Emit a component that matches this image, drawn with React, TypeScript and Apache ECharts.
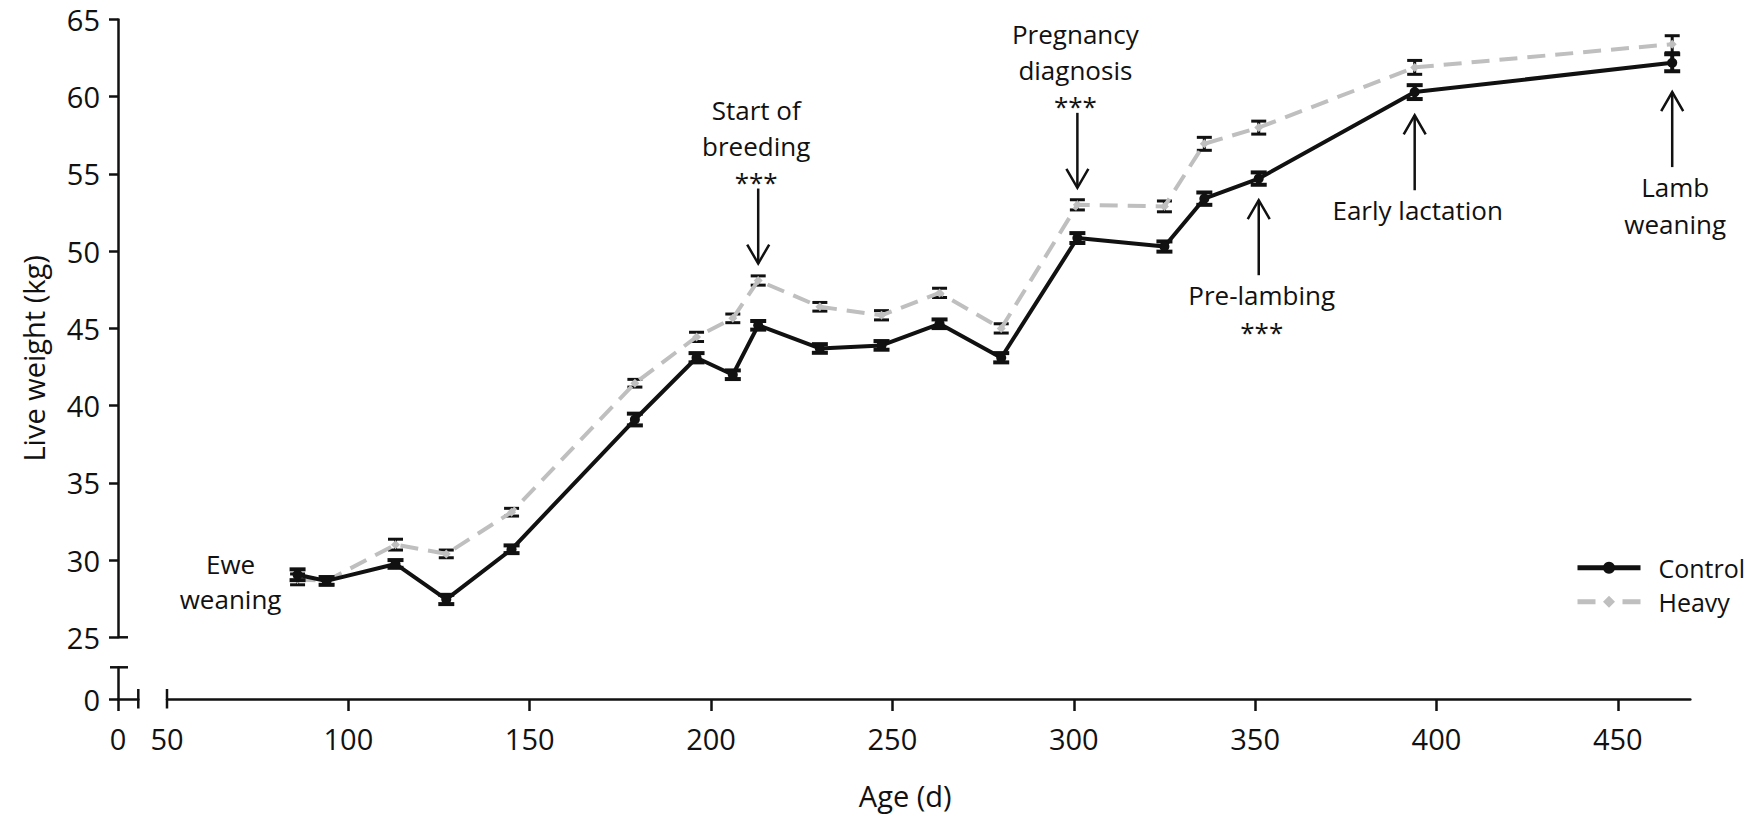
import React, { useEffect, useRef } from "react";
import * as echarts from "echarts";

// ---- data ----
const ageDays = [86, 94, 113, 127, 145, 179, 196, 206, 213, 230, 247, 263, 280, 301, 325, 336, 351, 394, 465];
const controlWeight = [29.05, 28.65, 29.75, 27.45, 30.7, 39.1, 43.1, 42.0, 45.2, 43.7, 43.9, 45.3, 43.1, 50.85, 50.3, 53.4, 54.7, 60.3, 62.2];
const controlSem = [0.35, 0.25, 0.25, 0.3, 0.25, 0.38, 0.3, 0.28, 0.28, 0.28, 0.28, 0.28, 0.3, 0.32, 0.33, 0.4, 0.4, 0.45, 0.55];
const heavyWeight = [28.75, 28.65, 31.0, 30.4, 33.1, 41.45, 44.45, 45.65, 48.1, 46.4, 45.85, 47.3, 45.0, 53.0, 52.9, 56.95, 58.0, 61.9, 63.4];
const heavySem = [0.35, 0.25, 0.35, 0.25, 0.25, 0.25, 0.3, 0.28, 0.3, 0.28, 0.3, 0.3, 0.3, 0.33, 0.35, 0.42, 0.42, 0.45, 0.55];

const xLabelValues = [50, 100, 150, 200, 250, 300, 350, 400, 450];
const xTickValues = [100, 150, 200, 250, 300, 350, 400, 450];

// events along the timeline: label lines, day, weight where the arrow tip sits, arrow direction
const eventText = [
  ["Ewe", "weaning"],
  ["Start of", "breeding", "***"],
  ["Pregnancy", "diagnosis", "***"],
  ["Pre-lambing", "***"],
  ["Early lactation"],
  ["Lamb", "weaning"],
];
const eventDay = [86, 213, 301, 351, 394, 465];
const eventKg = [29.05, 49.2, 54.1, 53.3, 58.8, 60.3];
const eventDir = ["none", "down", "down", "up", "up", "up"];

// ---- styling / layout ----
const FONT = "'Open Sans', 'Noto Sans', sans-serif";
const INK = "#111111";
const GREY = "#bfbfbf";
const FS_TICK = 29;
const FS_TITLE = 29;
const FS_NOTE = 26;
const FS_LEGEND = 25;

const GRID_LEFT = 167;
const GRID_TOP = 19.5;
const PX_PER_DAY = 3.627;
const PX_PER_KG = 15.445;
const X_MIN = 50;
const X_MAX = 470;
const Y_MIN = 25;
const Y_MAX = 65;
const GRID_W = (X_MAX - X_MIN) * PX_PER_DAY;
const GRID_H = (Y_MAX - Y_MIN) * PX_PER_KG;
const GRID_BOTTOM = GRID_TOP + GRID_H;
const Y_AXIS_X = 118;
const X_AXIS_Y = 699;
const STUB_X_END = 138.3;
const STUB_Y_TOP = 667.3;
const ARROW_LEN = 75;

const axisLineStyle = { color: INK, width: 2.5 };
const tickLabelStyle = { color: INK, fontSize: FS_TICK, fontFamily: FONT };
const titleStyle = { color: INK, fontSize: FS_TITLE, fontFamily: FONT };

const errorBar = (capHalf: number, width: number) => (_params: any, api: any) => {
  const x = api.value(0);
  const lo = api.coord([x, api.value(1)]);
  const hi = api.coord([x, api.value(2)]);
  const style = { stroke: INK, lineWidth: width };
  return {
    type: "group",
    children: [
      { type: "line", shape: { x1: lo[0], y1: lo[1], x2: hi[0], y2: hi[1] }, style },
      { type: "line", shape: { x1: lo[0] - capHalf, y1: lo[1], x2: lo[0] + capHalf, y2: lo[1] }, style },
      { type: "line", shape: { x1: hi[0] - capHalf, y1: hi[1], x2: hi[0] + capHalf, y2: hi[1] }, style },
    ],
  };
};

const textEl = (text: string, x: number, y: number) => ({
  type: "text",
  x,
  y,
  style: { text, fill: INK, fontSize: FS_NOTE, fontFamily: FONT, align: "center", verticalAlign: "middle" },
});

const renderEvent = (params: any, api: any) => {
  const i = params.dataIndex;
  const lines = eventText[i];
  const dir = eventDir[i];
  const p = api.coord([api.value(0), api.value(1)]);
  const stroke = { stroke: INK, lineWidth: 2.5, fill: "none" };
  const children: any[] = [];
  if (dir === "down") {
    const tail = p[1] - ARROW_LEN;
    children.push({ type: "line", shape: { x1: p[0], y1: tail, x2: p[0], y2: p[1] }, style: stroke });
    children.push({ type: "polyline", shape: { points: [[p[0] - 11, p[1] - 19], [p[0], p[1]], [p[0] + 11, p[1] - 19]] }, style: stroke });
    lines.forEach((t, k) => children.push(textEl(t, p[0] - 2, tail - 7 - (lines.length - 1 - k) * 36)));
  } else if (dir === "up") {
    const tail = p[1] + ARROW_LEN;
    children.push({ type: "line", shape: { x1: p[0], y1: tail, x2: p[0], y2: p[1] }, style: stroke });
    children.push({ type: "polyline", shape: { points: [[p[0] - 11, p[1] + 19], [p[0], p[1]], [p[0] + 11, p[1] + 19]] }, style: stroke });
    lines.forEach((t, k) => children.push(textEl(t, p[0] + 3, tail + 20 + k * 36.5)));
  } else {
    lines.forEach((t, k) => children.push(textEl(t, p[0] - 67, p[1] + 7 + (k - (lines.length - 1) / 2) * 35)));
  }
  return { type: "group", children };
};

const capLine = (x1: number, y1: number, x2: number, y2: number) => ({
  type: "line",
  shape: { x1, y1, x2, y2 },
  style: { stroke: INK, lineWidth: 2.5 },
  silent: true,
});

const option: any = {
  animation: false,
  backgroundColor: "#ffffff",
  grid: [
    { left: GRID_LEFT, top: GRID_TOP, width: GRID_W, height: GRID_H, outerBoundsMode: "none" },
    { left: Y_AXIS_X, top: STUB_Y_TOP, width: STUB_X_END - Y_AXIS_X, height: X_AXIS_Y - STUB_Y_TOP, outerBoundsMode: "none" },
  ],
  xAxis: [
    {
      type: "value",
      gridIndex: 0,
      min: X_MIN,
      max: X_MAX,
      position: "bottom",
      offset: X_AXIS_Y - GRID_BOTTOM,
      axisLine: { show: true, onZero: false, lineStyle: axisLineStyle },
      axisTick: { show: true, length: 12, lineStyle: axisLineStyle, customValues: xTickValues },
      axisLabel: { ...tickLabelStyle, margin: 25, customValues: xLabelValues },
      splitLine: { show: false },
      name: "Age (d)",
      nameLocation: "middle",
      nameGap: 82,
      nameTextStyle: { ...titleStyle, padding: [0, 47, 0, 0] },
    },
    {
      type: "value",
      gridIndex: 1,
      min: 0,
      max: (STUB_X_END - Y_AXIS_X) / PX_PER_DAY,
      position: "bottom",
      axisLine: { show: true, onZero: false, lineStyle: axisLineStyle },
      axisTick: { show: true, length: 12, lineStyle: axisLineStyle, customValues: [0] },
      axisLabel: { ...tickLabelStyle, margin: 25, customValues: [0] },
      splitLine: { show: false },
    },
  ],
  yAxis: [
    {
      type: "value",
      gridIndex: 0,
      min: Y_MIN,
      max: Y_MAX,
      interval: 5,
      position: "left",
      offset: GRID_LEFT - Y_AXIS_X,
      axisLine: { show: true, onZero: false, lineStyle: axisLineStyle },
      axisTick: { show: true, length: 9, lineStyle: axisLineStyle },
      axisLabel: { ...tickLabelStyle, margin: 18 },
      splitLine: { show: false },
      name: "Live weight (kg)",
      nameLocation: "middle",
      nameGap: 70,
      nameTextStyle: { ...titleStyle, padding: [0, 60, 0, 0] },
    },
    {
      type: "value",
      gridIndex: 1,
      min: 0,
      max: (X_AXIS_Y - STUB_Y_TOP) / PX_PER_KG,
      position: "left",
      axisLine: { show: true, onZero: false, lineStyle: axisLineStyle },
      axisTick: { show: true, length: 9, lineStyle: axisLineStyle, customValues: [0] },
      axisLabel: { ...tickLabelStyle, margin: 18, customValues: [0] },
      splitLine: { show: false },
    },
  ],
  legend: {
    data: [
      { name: "Control", lineStyle: { width: 5 } },
      { name: "Heavy", lineStyle: { width: 5, type: [18, 27] } },
    ],
    orient: "vertical",
    left: 1575,
    top: 552.7,
    padding: 0,
    itemWidth: 63,
    itemHeight: 15,
    itemGap: 4,
    selectedMode: false,
    lineStyle: { width: 5 },
    textStyle: { color: INK, fontSize: FS_LEGEND, fontFamily: FONT, lineHeight: 30, padding: [0, 0, 0, 13] },
  },
  // axis-break caps
  graphic: [
    capLine(Y_AXIS_X, GRID_BOTTOM, Y_AXIS_X + 10, GRID_BOTTOM),
    capLine(Y_AXIS_X - 8, STUB_Y_TOP, Y_AXIS_X + 10, STUB_Y_TOP),
    capLine(STUB_X_END, X_AXIS_Y - 10, STUB_X_END, X_AXIS_Y + 9.5),
    capLine(GRID_LEFT, X_AXIS_Y - 10, GRID_LEFT, X_AXIS_Y + 9.5),
  ],
  series: [
    {
      name: "Heavy SEM",
      type: "custom",
      xAxisIndex: 0,
      yAxisIndex: 0,
      z: 1,
      clip: false,
      silent: true,
      renderItem: errorBar(7.5, 3),
      encode: { x: 0, y: [1, 2] },
      data: ageDays.map((d, i) => [d, heavyWeight[i] - heavySem[i], heavyWeight[i] + heavySem[i]]),
    },
    {
      name: "Heavy",
      type: "line",
      xAxisIndex: 0,
      yAxisIndex: 0,
      z: 2,
      symbol: "diamond",
      symbolSize: 9,
      itemStyle: { color: GREY },
      lineStyle: { color: GREY, width: 4, type: [18, 10] },
      data: ageDays.map((d, i) => [d, heavyWeight[i]]),
    },
    {
      name: "Control SEM",
      type: "custom",
      xAxisIndex: 0,
      yAxisIndex: 0,
      z: 3,
      clip: false,
      silent: true,
      renderItem: errorBar(8, 4),
      encode: { x: 0, y: [1, 2] },
      data: ageDays.map((d, i) => [d, controlWeight[i] - controlSem[i], controlWeight[i] + controlSem[i]]),
    },
    {
      name: "Control",
      type: "line",
      xAxisIndex: 0,
      yAxisIndex: 0,
      z: 4,
      symbol: "circle",
      symbolSize: 10,
      itemStyle: { color: INK },
      lineStyle: { color: INK, width: 4 },
      data: ageDays.map((d, i) => [d, controlWeight[i]]),
    },
    {
      name: "Events",
      type: "custom",
      xAxisIndex: 0,
      yAxisIndex: 0,
      z: 5,
      clip: false,
      silent: true,
      renderItem: renderEvent,
      encode: { x: 0, y: 1 },
      data: eventDay.map((d, i) => [d, eventKg[i]]),
    },
  ],
};

export default function App() {
  const ref = useRef<HTMLDivElement>(null);
  useEffect(() => {
    if (!ref.current) return;
    const chart = echarts.init(ref.current, undefined, { renderer: "svg" });
    chart.setOption(option);
    return () => chart.dispose();
  }, []);
  return (
    <div
      ref={ref}
      style={{ position: "fixed", left: 0, top: 0, width: 1757, height: 818, background: "#ffffff" }}
    />
  );
}
